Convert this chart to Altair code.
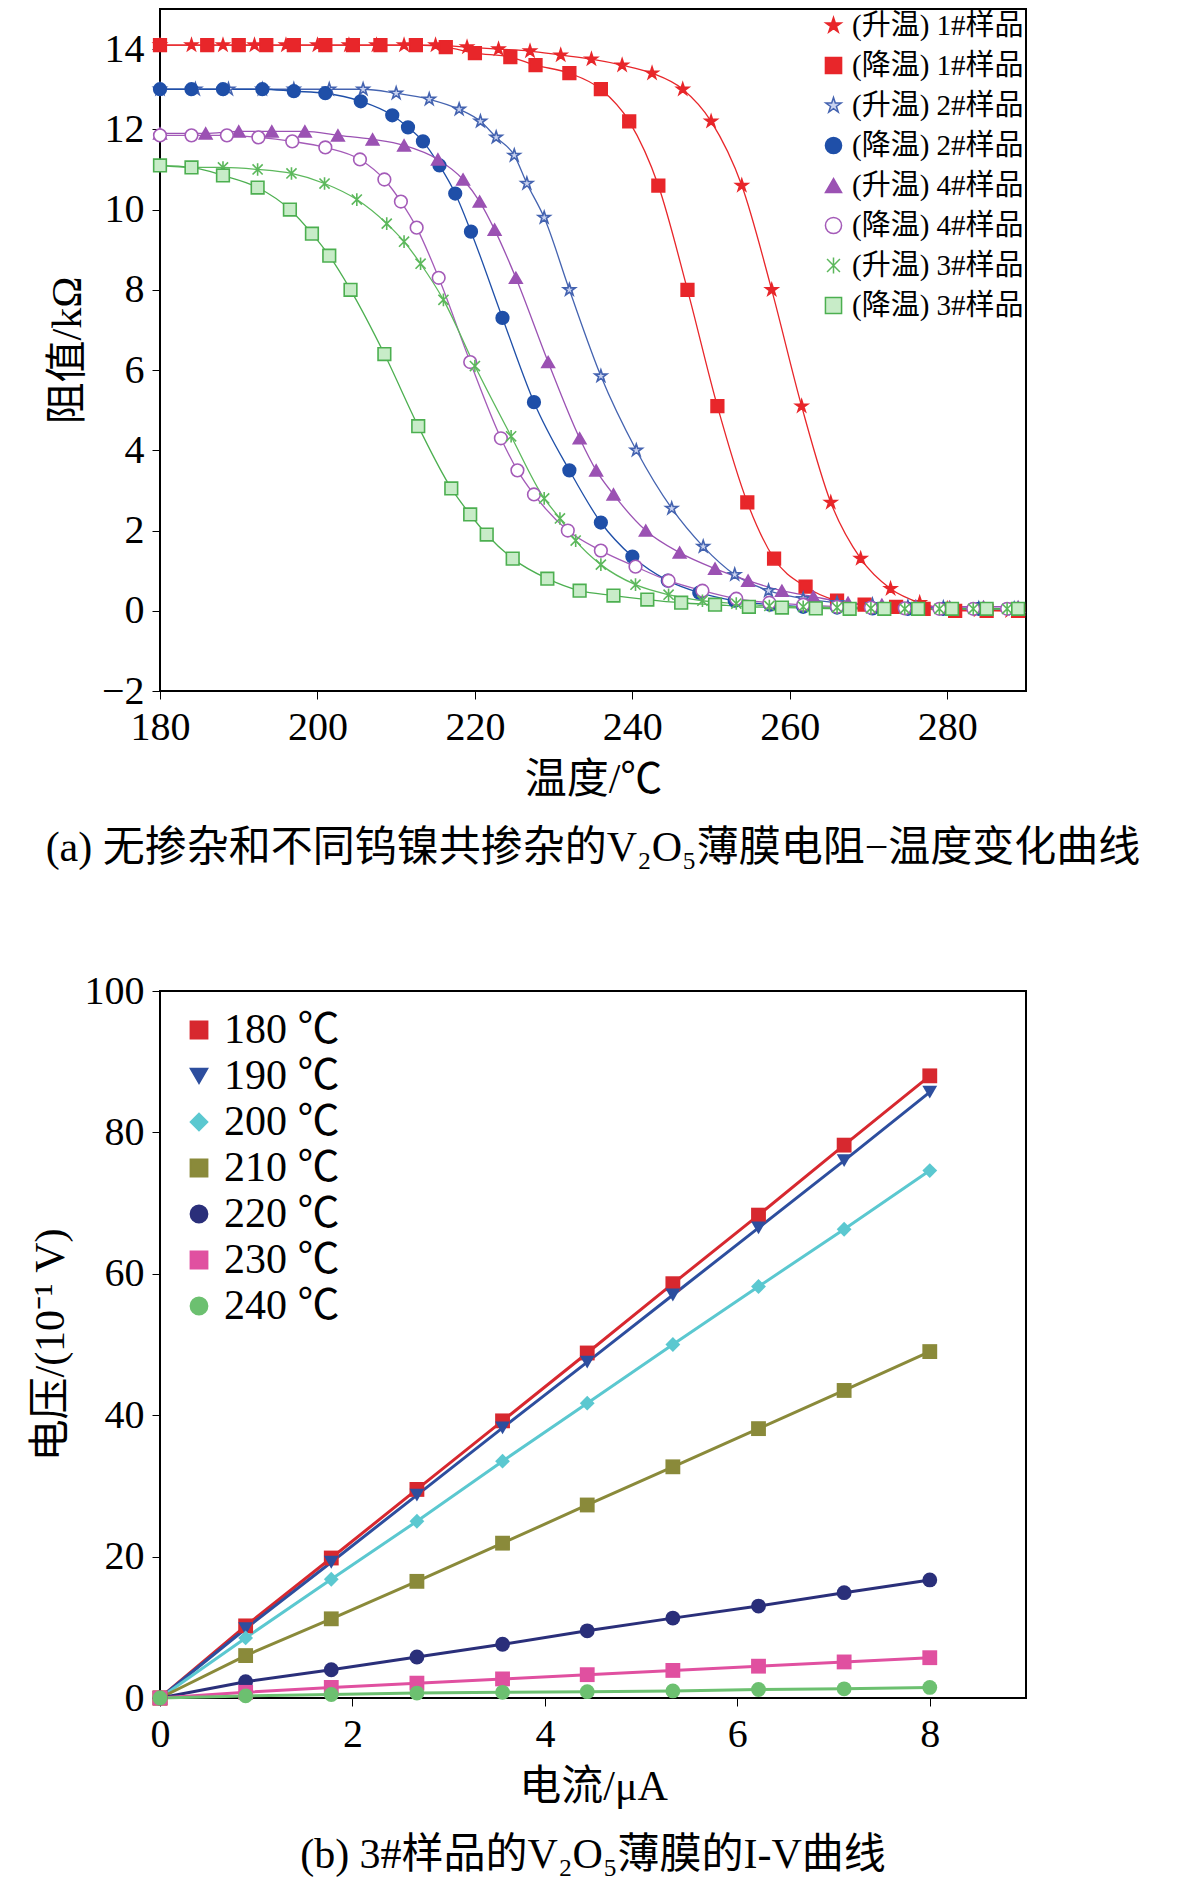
import altair as alt
import pandas as pd

# ---------- (a) 电阻-温度 ----------
r1_up_t = [180, 184, 188, 192, 196, 200, 204, 207.5, 211, 215, 219, 223, 227, 230.9, 234.8, 238.7, 242.5, 246.4, 250, 253.9, 257.7, 261.5, 265.2, 269, 272.8, 276.5, 280, 284, 288]
r1_up_v = [14.1, 14.1, 14.1, 14.1, 14.1, 14.1, 14.1, 14.1, 14.1, 14.1, 14.05, 14.0, 13.95, 13.85, 13.75, 13.6, 13.4, 13.0, 12.2, 10.6, 8.0, 5.1, 2.7, 1.3, 0.55, 0.2, 0.05, 0.02, 0.0]
r1_dn_t = [180, 186, 190, 193.5, 197, 201, 204.5, 208, 212.5, 216.3, 220, 224.5, 227.7, 232, 236, 239.6, 243.3, 247, 250.8, 254.6, 258, 262, 266, 269.5, 273.5, 277, 281, 285, 289]
r1_dn_v = [14.1, 14.1, 14.1, 14.1, 14.1, 14.1, 14.1, 14.1, 14.1, 14.05, 13.9, 13.8, 13.6, 13.4, 13.0, 12.2, 10.6, 8.0, 5.1, 2.7, 1.3, 0.6, 0.25, 0.15, 0.1, 0.05, 0.0, 0.0, 0.0]
r2_up_t = [180, 184.5, 188.7, 193, 197, 201.5, 205.8, 210, 214.2, 218, 220.7, 222.7, 225, 226.6, 228.8, 232, 236, 240.5, 245, 249, 253, 257.3, 261.7, 266, 270.5, 275, 279.5, 284, 288.5]
r2_up_v = [13.0, 13.0, 13.0, 13.0, 13.0, 13.0, 13.0, 12.9, 12.75, 12.5, 12.2, 11.8, 11.35, 10.65, 9.8, 8.0, 5.85, 4.0, 2.55, 1.6, 0.9, 0.5, 0.3, 0.2, 0.15, 0.1, 0.08, 0.06, 0.05]
r2_dn_t = [180, 184, 188, 193, 197, 201, 205.5, 209.5, 211.5, 213.4, 215.5, 217.5, 219.5, 223.5, 227.5, 232, 236, 240, 244.5, 248.5, 253, 257.5, 261.7, 266, 270.5, 275, 279.5, 284, 288.5]
r2_dn_v = [13.0, 13.0, 13.0, 13.0, 12.95, 12.9, 12.7, 12.35, 12.05, 11.7, 11.1, 10.4, 9.45, 7.3, 5.2, 3.5, 2.2, 1.35, 0.75, 0.45, 0.25, 0.15, 0.1, 0.08, 0.06, 0.05, 0.05, 0.05, 0.05]
r4_up_t = [180, 185.8, 190, 194.2, 198.4, 202.6, 207, 211, 215.3, 218.5, 220.6, 222.5, 225.2, 229.3, 233.3, 235.4, 237.6, 241.7, 246, 250.5, 254.7, 259, 263, 267.4, 271.7, 276, 280.3, 284.6, 289]
r4_up_v = [11.9, 11.9, 11.95, 11.95, 11.95, 11.85, 11.75, 11.6, 11.25, 10.75, 10.2, 9.5, 8.3, 6.2, 4.3, 3.5, 2.9, 2.0, 1.45, 1.05, 0.75, 0.5, 0.35, 0.2, 0.15, 0.12, 0.1, 0.1, 0.1]
r4_dn_t = [180, 184, 188.5, 192.5, 196.8, 201, 205.4, 208.5, 210.6, 212.6, 215.4, 219.4, 223.3, 225.4, 227.5, 231.8, 236, 240.4, 244.6, 248.9, 253.2, 257.4, 261.7, 266, 270.3, 274.6, 279, 283.3, 287.6]
r4_dn_v = [11.85, 11.85, 11.85, 11.8, 11.7, 11.55, 11.25, 10.75, 10.2, 9.55, 8.3, 6.2, 4.3, 3.5, 2.9, 2.0, 1.5, 1.1, 0.75, 0.5, 0.3, 0.2, 0.15, 0.1, 0.08, 0.06, 0.05, 0.05, 0.05]
r3_up_t = [180, 184, 188, 192.4, 196.7, 200.9, 205, 208.8, 211, 213.1, 216, 220, 224.6, 228.8, 230.8, 232.8, 236, 240.4, 244.6, 248.9, 253.2, 257.4, 261.7, 266, 270.3, 274.6, 279, 283.3, 287.6]
r3_up_v = [11.1, 11.05, 11.05, 11.0, 10.9, 10.65, 10.25, 9.65, 9.2, 8.65, 7.75, 6.1, 4.35, 2.8, 2.3, 1.75, 1.15, 0.65, 0.4, 0.25, 0.18, 0.12, 0.1, 0.08, 0.06, 0.05, 0.05, 0.05, 0.05]
r3_dn_t = [180, 184, 188, 192.4, 196.5, 199.3, 201.5, 204.2, 208.5, 212.8, 217, 219.4, 221.5, 224.8, 229.2, 233.3, 237.6, 241.9, 246.2, 250.5, 254.8, 259, 263.3, 267.6, 272, 276.3, 280.6, 285, 289]
r3_dn_v = [11.1, 11.05, 10.85, 10.55, 10.0, 9.4, 8.85, 8.0, 6.4, 4.6, 3.05, 2.4, 1.9, 1.3, 0.8, 0.5, 0.38, 0.28, 0.2, 0.15, 0.1, 0.08, 0.06, 0.05, 0.05, 0.05, 0.05, 0.05, 0.05]

series_a = ["(升温) 1#样品", "(降温) 1#样品", "(升温) 2#样品", "(降温) 2#样品",
            "(升温) 4#样品", "(降温) 4#样品", "(升温) 3#样品", "(降温) 3#样品"]
data_a = [(r1_up_t, r1_up_v), (r1_dn_t, r1_dn_v), (r2_up_t, r2_up_v), (r2_dn_t, r2_dn_v),
          (r4_up_t, r4_up_v), (r4_dn_t, r4_dn_v), (r3_up_t, r3_up_v), (r3_dn_t, r3_dn_v)]

star = "M0,-1L0.2245,-0.309L0.951,-0.309L0.363,0.118L0.588,0.809L0,0.382L-0.588,0.809L-0.363,0.118L-0.951,-0.309L-0.2245,-0.309Z"
xmark = "M-0.8,-0.8L0.8,0.8M-0.8,0.8L0.8,-0.8M0,-1L0,1"
colors_a = ["#e8262a", "#e8262a", "#4463b0", "#1f4fa8", "#9b52b3", "#a45bb8", "#5cb85c", "#4caf50"]
fills_a = ["#e8262a", "#e8262a", "#c9d3f0", "#1f4fa8", "#9b52b3", "#ffffff", "#c8ecc8", "#c8ecc8"]
shapes_a = [star, "square", star, "circle", "triangle-up", "circle", xmark, "square"]

rows = []
for name, (ts, vs) in zip(series_a, data_a):
    for t, v in zip(ts, vs):
        rows.append({"温度": t, "阻值": v, "样品": name})
df_a = pd.DataFrame(rows)

font = "Liberation Serif, Noto Sans CJK SC"
xa = alt.X("温度:Q", title="温度/℃", scale=alt.Scale(domain=[180, 290], nice=False),
           axis=alt.Axis(values=[180, 200, 220, 240, 260, 280], grid=False))
ya = alt.Y("阻值:Q", title="阻值/kΩ", scale=alt.Scale(domain=[-2, 15], nice=False),
           axis=alt.Axis(values=list(range(-2, 15, 2)), grid=False, labelExpr="replace(datum.label, '-', '−')"))
stroke_a = alt.Stroke("样品:N", scale=alt.Scale(domain=series_a, range=colors_a), sort=series_a,
                      legend=alt.Legend(title=None, orient="top-right", labelFontSize=29, symbolSize=260,
                                        rowPadding=10, offset=2, labelFont=font, symbolStrokeWidth=1.5))
lines_a = alt.Chart(df_a).mark_line(strokeWidth=1.3, interpolate="monotone").encode(
    x=xa, y=ya, stroke=stroke_a, detail="样品:N")
pts_a = alt.Chart(df_a).mark_point(filled=False, size=160, strokeWidth=1.6, opacity=1).encode(
    x=xa, y=ya, stroke=stroke_a,
    fill=alt.Fill("样品:N", scale=alt.Scale(domain=series_a, range=fills_a), sort=series_a, legend=None),
    shape=alt.Shape("样品:N", scale=alt.Scale(domain=series_a, range=shapes_a), sort=series_a, legend=None))
chart_a = (lines_a + pts_a).properties(
    width=866, height=682,
    title=alt.TitleParams("(a) 无掺杂和不同钨镍共掺杂的V₂O₅薄膜电阻−温度变化曲线", orient="bottom",
                          fontSize=42, font=font, fontWeight="normal", offset=28, anchor="middle"))

# ---------- (b) I-V ----------
current = [0, 0.89, 1.78, 2.67, 3.56, 4.44, 5.33, 6.22, 7.11, 8.0]
v180 = [0, 10.2, 19.8, 29.5, 39.2, 48.8, 58.6, 68.3, 78.2, 88]
v190 = [0, 9.8, 19.2, 28.7, 38.2, 47.5, 57, 66.5, 76, 85.7]
v200 = [0, 8.5, 16.8, 25, 33.5, 41.7, 50, 58.2, 66.3, 74.6]
v210 = [0, 6, 11.2, 16.5, 21.9, 27.3, 32.7, 38.1, 43.5, 49]
v220 = [0, 2.3, 4, 5.8, 7.6, 9.5, 11.3, 13, 14.9, 16.7]
v230 = [0, 0.8, 1.5, 2.1, 2.7, 3.3, 3.9, 4.5, 5.1, 5.7]
v240 = [0, 0.3, 0.5, 0.7, 0.8, 0.9, 1.0, 1.2, 1.3, 1.5]
series_b = ["180 ℃", "190 ℃", "200 ℃", "210 ℃", "220 ℃", "230 ℃", "240 ℃"]
colors_b = ["#d7282f", "#2d4e9e", "#5bc8d0", "#8a8a3a", "#2a2f7a", "#e050a0", "#6cc070"]
shapes_b = ["square", "triangle-down", "diamond", "square", "circle", "square", "circle"]

rows = []
for name, vs in zip(series_b, [v180, v190, v200, v210, v220, v230, v240]):
    for i, v in zip(current, vs):
        rows.append({"电流": i, "电压": v, "温度": name})
df_b = pd.DataFrame(rows)

xb = alt.X("电流:Q", title="电流/μA", scale=alt.Scale(domain=[0, 9], nice=False),
           axis=alt.Axis(values=[0, 2, 4, 6, 8], grid=False))
yb = alt.Y("电压:Q", title="电压/(10⁻¹ V)", scale=alt.Scale(domain=[0, 100], nice=False),
           axis=alt.Axis(values=[0, 20, 40, 60, 80, 100], grid=False))
legend_b = alt.Legend(title=None, orient="top-left", labelFontSize=42, symbolSize=300,
                      rowPadding=4, offset=18, labelFont=font)
color_b = alt.Color("温度:N", scale=alt.Scale(domain=series_b, range=colors_b), sort=series_b, legend=legend_b)
lines_b = alt.Chart(df_b).mark_line(strokeWidth=3).encode(x=xb, y=yb, color=color_b)
pts_b = alt.Chart(df_b).mark_point(filled=True, size=220, opacity=1).encode(
    x=xb, y=yb, color=color_b,
    shape=alt.Shape("温度:N", scale=alt.Scale(domain=series_b, range=shapes_b), sort=series_b, legend=legend_b))
chart_b = (lines_b + pts_b).properties(
    width=866, height=707,
    title=alt.TitleParams("(b) 3#样品的V₂O₅薄膜的I-V曲线", orient="bottom",
                          fontSize=42, font=font, fontWeight="normal", offset=28, anchor="middle"))

chart = alt.vconcat(chart_a, chart_b, spacing=100).resolve_scale(
    color="independent", shape="independent", stroke="independent", fill="independent"
).configure_view(stroke="black", strokeWidth=2).configure_axis(
    labelFont=font, titleFont=font, labelFontSize=40, titleFontSize=42, titleFontWeight="normal",
    labelColor="black", titleColor="black", domainColor="black", tickColor="black",
    tickSize=8, labelPadding=8, titlePadding=12, labelFlush=False
).configure_legend(labelLimit=400).properties(padding={"left": 20, "top": 0, "right": 5, "bottom": 5})

chart.save("out.html", embed_options={"renderer": "svg", "actions": False})
